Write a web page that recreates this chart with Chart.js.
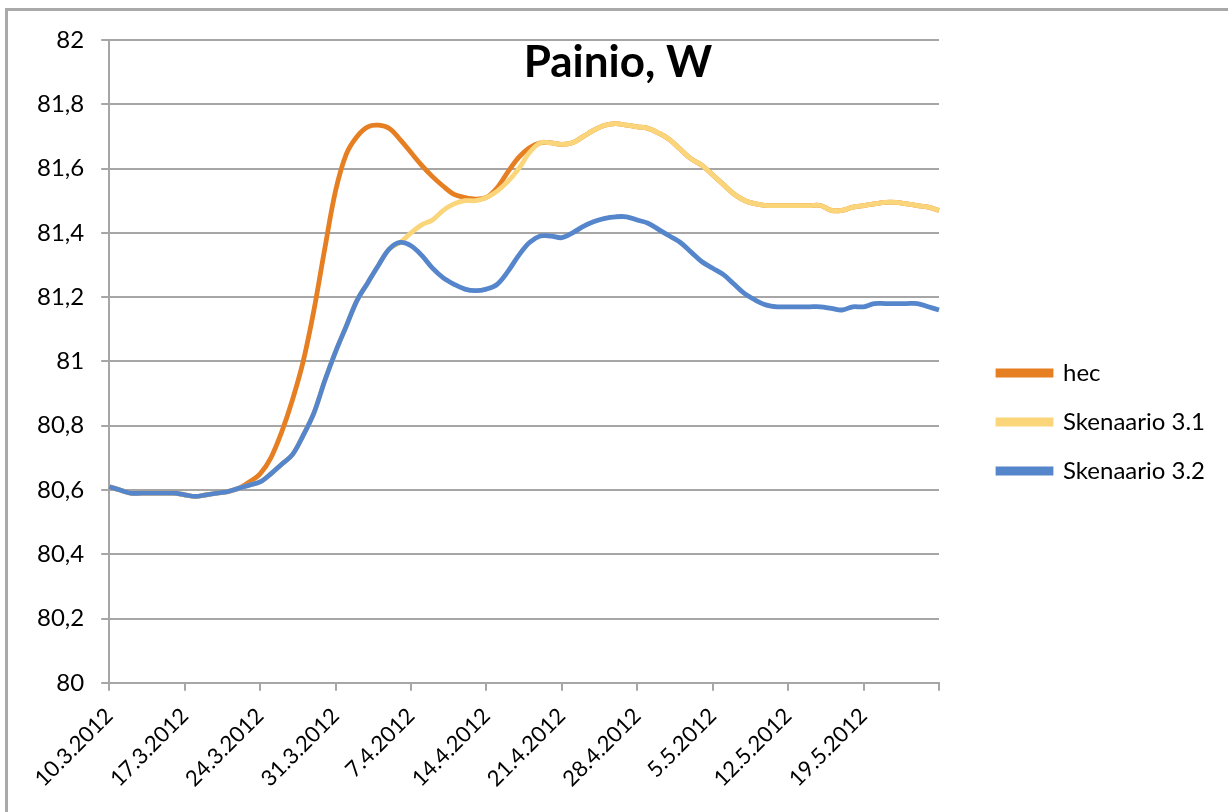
<!DOCTYPE html>
<html>
<head>
<meta charset="utf-8">
<script src="https://cdn.jsdelivr.net/npm/chart.js@4.4.1/dist/chart.umd.min.js"></script>
<style>
    body { margin: 0; background: #fff; }
    #wrap { position: relative; width: 1228px; height: 812px; overflow: hidden; }
    #frame { position: absolute; left: 5px; top: 8px; width: 1300px; height: 900px;
             border-top: 3px solid #a9a9a9; border-left: 3px solid #a9a9a9; pointer-events: none; }
</style>
</head>
<body>
<div id="wrap">
    <canvas id="chart" width="1228" height="812"></canvas>
    <div id="frame"></div>
</div>
<script>
// daily dates 10.3.2012 .. 26.5.2012
const dates = [];
for (let d = new Date(2012, 2, 10); d <= new Date(2012, 4, 26); d.setDate(d.getDate() + 1)) {
    dates.push(d.getDate() + '.' + (d.getMonth() + 1) + '.' + d.getFullYear());
}

const hec = [
    80.61, 80.60, 80.59, 80.59, 80.59, 80.59, 80.59, 80.585, 80.58, 80.585,
    80.59, 80.595, 80.605, 80.625, 80.65, 80.70, 80.78, 80.88, 81.00, 81.16,
    81.35, 81.53, 81.645, 81.70, 81.73, 81.735, 81.725, 81.69, 81.65, 81.61,
    81.575, 81.545, 81.52, 81.51, 81.505, 81.51, 81.54, 81.59, 81.635, 81.665,
    81.68, 81.68, 81.675, 81.68, 81.70, 81.72, 81.735, 81.74, 81.735, 81.73,
    81.725, 81.71, 81.69, 81.66, 81.63, 81.61, 81.58, 81.55, 81.52, 81.50,
    81.49, 81.485, 81.485, 81.485, 81.485, 81.485, 81.485, 81.47, 81.47, 81.48,
    81.485, 81.49, 81.495, 81.495, 81.49, 81.485, 81.48, 81.47
];
const skenaario31 = [
    80.61, 80.60, 80.59, 80.59, 80.59, 80.59, 80.59, 80.585, 80.58, 80.585,
    80.59, 80.595, 80.605, 80.615, 80.625, 80.65, 80.68, 80.71, 80.77, 80.84,
    80.94, 81.03, 81.11, 81.19, 81.245, 81.30, 81.35, 81.37, 81.40, 81.425,
    81.44, 81.47, 81.49, 81.50, 81.50, 81.51, 81.53, 81.56, 81.60, 81.65,
    81.68, 81.68, 81.675, 81.68, 81.70, 81.72, 81.735, 81.74, 81.735, 81.73,
    81.725, 81.71, 81.69, 81.66, 81.63, 81.61, 81.58, 81.55, 81.52, 81.50,
    81.49, 81.485, 81.485, 81.485, 81.485, 81.485, 81.485, 81.47, 81.47, 81.48,
    81.485, 81.49, 81.495, 81.495, 81.49, 81.485, 81.48, 81.47
];
const skenaario32 = [
    80.61, 80.60, 80.59, 80.59, 80.59, 80.59, 80.59, 80.585, 80.58, 80.585,
    80.59, 80.595, 80.605, 80.615, 80.625, 80.65, 80.68, 80.71, 80.77, 80.84,
    80.94, 81.03, 81.11, 81.19, 81.245, 81.30, 81.35, 81.37, 81.36, 81.33,
    81.29, 81.26, 81.24, 81.225, 81.22, 81.225, 81.24, 81.28, 81.33, 81.37,
    81.39, 81.39, 81.385, 81.40, 81.42, 81.435, 81.445, 81.45, 81.45, 81.44,
    81.43, 81.41, 81.39, 81.37, 81.34, 81.31, 81.29, 81.27, 81.24, 81.21,
    81.19, 81.175, 81.17, 81.17, 81.17, 81.17, 81.17, 81.165, 81.16, 81.17,
    81.17, 81.18, 81.18, 81.18, 81.18, 81.18, 81.17, 81.16
];

const seriesNames = ['hec', 'Skenaario 3.1', 'Skenaario 3.2'];
const seriesColors = ['#E67E22', '#FAD57A', '#5585CA'];
const titleText = 'Painio, W';
const gridGrey = '#a6a6a6';

// Excel-style overlay title
const overlayTitle = {
    id: 'overlayTitle',
    afterDraw(chart) {
        const ctx = chart.ctx;
        ctx.save();
        ctx.font = 'bold 44px Lato';
        ctx.fillStyle = '#000';
        ctx.textAlign = 'center';
        ctx.textBaseline = 'middle';
        ctx.fillText(titleText, 618, 63);
        ctx.restore();
    }
};

const makeSet = (i, data, order) => ({
    label: seriesNames[i],
    data: data,
    borderColor: seriesColors[i],
    backgroundColor: seriesColors[i],
    borderWidth: 4.8,
    pointRadius: 0,
    tension: 0.35,
    order: order
});

new Chart(document.getElementById('chart'), {
    type: 'line',
    data: {
        labels: dates,
        datasets: [makeSet(0, hec, 3), makeSet(1, skenaario31, 2), makeSet(2, skenaario32, 1)]
    },
    options: {
        responsive: false,
        animation: false,
        layout: { padding: { left: 20, top: 40, right: 13, bottom: 8 } },
        plugins: {
            title: { display: false },
            tooltip: { enabled: false },
            legend: {
                position: 'right',
                maxWidth: 320,
                labels: {
                    font: { family: 'Lato', size: 24 },
                    color: '#000',
                    boxWidth: 53,
                    boxHeight: 4,
                    padding: 25,
                    sort: (a, b) => a.datasetIndex - b.datasetIndex
                }
            }
        },
        scales: {
            x: {
                offset: false,
                grid: {
                    drawOnChartArea: false,
                    tickLength: 8,
                    lineWidth: 2,
                    color: gridGrey
                },
                border: { color: gridGrey, width: 2 },
                ticks: {
                    autoSkip: false,
                    minRotation: 45,
                    maxRotation: 45,
                    padding: 12,
                    font: { family: 'Lato', size: 22 },
                    color: '#000',
                    callback: (v, i) => i % 7 === 0 ? (i < dates.length - 1 ? dates[i] : '') : null
                }
            },
            y: {
                min: 80,
                max: 82,
                grid: { color: gridGrey, lineWidth: 2, tickLength: 8 },
                border: { color: gridGrey, width: 2 },
                ticks: {
                    stepSize: 0.2,
                    padding: 17,
                    font: { family: 'Lato', size: 24 },
                    color: '#000',
                    callback: (v) => String(Math.round(v * 10) / 10).replace('.', ',')
                }
            },
            // empty spacer between plot and legend
            gap: {
                type: 'linear',
                position: 'right',
                display: true,
                grid: { display: false },
                border: { display: false },
                ticks: { display: false },
                afterFit: (scale) => { scale.width = 34; }
            }
        }
    },
    plugins: [overlayTitle]
});
</script>
</body>
</html>
